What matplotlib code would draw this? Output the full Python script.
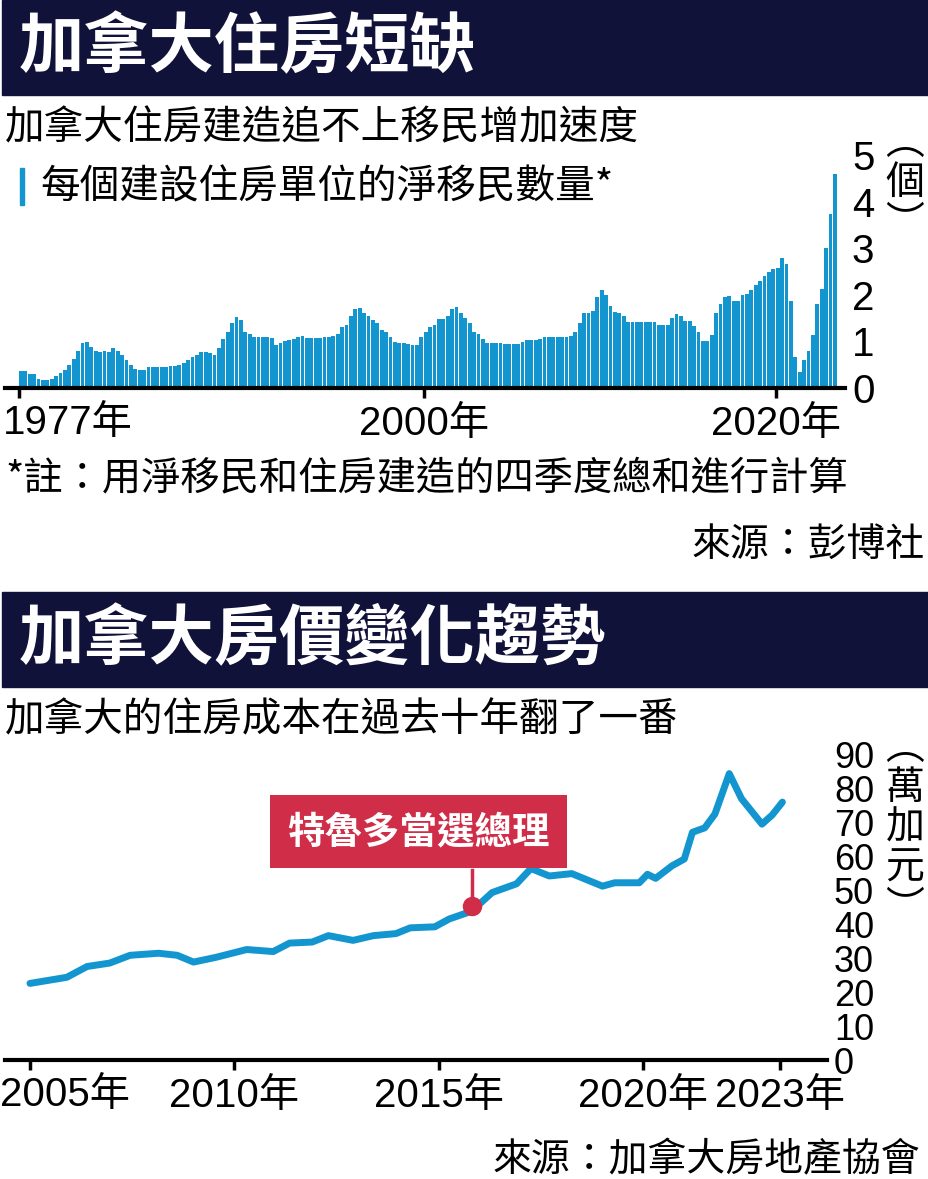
import matplotlib
matplotlib.use("Agg")
import matplotlib.pyplot as plt
import numpy as np
from matplotlib.patches import Rectangle

# ---- data ----
# net immigrants per housing unit built, quarterly, 1977Q1 .. 2023Q2
start_year = 1977
mig_per_unit = [
    0.37, 0.37, 0.31, 0.30,  # 1977
    0.19, 0.17, 0.17, 0.19,  # 1978
    0.25, 0.33, 0.39, 0.50,  # 1979
    0.63, 0.80, 0.96, 0.98,  # 1980
    0.89, 0.80, 0.78, 0.80,  # 1981
    0.78, 0.85, 0.80, 0.70,  # 1982
    0.60, 0.50, 0.40, 0.39,  # 1983
    0.39, 0.44, 0.44, 0.44,  # 1984
    0.44, 0.45, 0.47, 0.48,  # 1985
    0.50, 0.53, 0.60, 0.67,  # 1986
    0.70, 0.78, 0.78, 0.75,  # 1987
    0.71, 0.85, 1.05, 1.20,  # 1988
    1.40, 1.52, 1.45, 1.20,  # 1989
    1.15, 1.10, 1.10, 1.10,  # 1990
    1.10, 1.08, 0.92, 0.96,  # 1991
    1.00, 1.03, 1.05, 1.10,  # 1992
    1.12, 1.07, 1.07, 1.07,  # 1993
    1.07, 1.10, 1.10, 1.12,  # 1994
    1.15, 1.30, 1.35, 1.55,  # 1995
    1.70, 1.71, 1.60, 1.55,  # 1996
    1.45, 1.40, 1.25, 1.20,  # 1997
    1.10, 0.98, 0.96, 0.96,  # 1998
    0.95, 0.92, 0.93, 1.10,  # 1999
    1.20, 1.30, 1.35, 1.47,  # 2000
    1.47, 1.55, 1.70, 1.73,  # 2001
    1.62, 1.50, 1.40, 1.20,  # 2002
    1.15, 1.05, 0.96, 0.96,  # 2003
    0.96, 0.96, 0.94, 0.94,  # 2004
    0.94, 0.94, 0.98, 1.02,  # 2005
    1.02, 1.02, 1.05, 1.10,  # 2006
    1.10, 1.10, 1.10, 1.10,  # 2007
    1.10, 1.12, 1.20, 1.40,  # 2008
    1.60, 1.61, 1.65, 1.95,  # 2009
    2.10, 2.00, 1.75, 1.64,  # 2010
    1.62, 1.54, 1.41, 1.41,  # 2011
    1.41, 1.41, 1.41, 1.41,  # 2012
    1.41, 1.36, 1.36, 1.36,  # 2013
    1.50, 1.59, 1.55, 1.43,  # 2014
    1.43, 1.33, 1.20, 1.00,  # 2015
    1.00, 1.14, 1.60, 1.80,  # 2016
    1.95, 1.97, 1.86, 1.86,  # 2017
    2.00, 2.02, 2.10, 2.20,  # 2018
    2.30, 2.40, 2.50, 2.55,  # 2019
    2.58, 2.80, 2.66, 1.86,  # 2020
    0.67, 0.35, 0.60, 0.80,  # 2021
    1.14, 1.80, 2.12, 3.00,  # 2022
    3.74, 4.60,              # 2023
]
top_ticks = [1977, 2000, 2020]
top_labels = ["1977年", "2000年", "2020年"]

# average home price (10k CAD)
price_year = [2005.0, 2005.9, 2006.4, 2006.95, 2007.45, 2008.15, 2008.6, 2009.0,
              2009.55, 2010.3, 2010.95, 2011.35, 2011.9, 2012.3, 2012.9, 2013.4,
              2013.95, 2014.3, 2014.9, 2015.25, 2015.8, 2016.3, 2016.9, 2017.25,
              2017.7, 2018.25, 2019.0, 2019.3, 2019.9, 2020.1, 2020.3, 2020.7,
              2021.0, 2021.2, 2021.5, 2021.75, 2022.1, 2022.4, 2022.9, 2023.15, 2023.4]
price = [22.6, 24.4, 27.6, 28.6, 30.9, 31.5, 30.9, 28.9,
         30.3, 32.6, 32.0, 34.5, 34.8, 36.7, 35.3, 36.7,
         37.3, 39.0, 39.3, 41.6, 43.9, 49.4, 52.0, 56.5,
         54.3, 55.0, 51.3, 52.3, 52.3, 54.8, 53.6, 57.3,
         59.3, 67.2, 68.5, 72.6, 84.5, 77.1, 69.6, 72.3, 76.1]
bottom_ticks = [2005, 2010, 2015, 2020, 2023.35]
bottom_labels = ["2005年", "2010年", "2015年", "2020年", "2023年"]
event_label = "特魯多當選總理"
event_year, event_price = 2015.8, 45.5

# ---- style ----
W, H = 929, 1179
NAVY = "#10123a"
BLUE = "#1396d0"
RED = "#cf2d48"
CJK = ["Noto Sans CJK TC", "DejaVu Sans"]
NUM = ["Liberation Sans", "Noto Sans CJK TC", "DejaVu Sans"]
plt.rcParams["font.family"] = NUM


def fx(x):
    return x / W


def fy(y):
    return 1 - y / H


fig = plt.figure(figsize=(W / 100, H / 100), dpi=100)

# title bars
for y0, y1, title in [(0, 95, "加拿大住房短缺"), (592, 687, "加拿大房價變化趨勢")]:
    fig.patches.append(Rectangle((fx(2), fy(y1)), 1 - fx(2), fy(y0) - fy(y1),
                                 transform=fig.transFigure, color=NAVY))
    fig.text(fx(19), fy((y0 + y1) / 2), title, color="white", fontsize=47,
             fontweight="bold", family=CJK, va="center", ha="left")


def style_axis(ax, labelsize):
    for s in ["top", "left", "right"]:
        ax.spines[s].set_visible(False)
    ax.spines["bottom"].set_linewidth(3)
    ax.yaxis.tick_right()
    ax.tick_params(axis="y", length=0, pad=5, labelsize=labelsize)
    ax.tick_params(axis="x", length=7, width=2.5, pad=5, labelsize=29)


# ---- top chart: bars ----
ax1 = fig.add_axes([fx(5), fy(388), fx(845) - fx(5), fy(155) - fy(388)])
quarters = start_year + np.arange(len(mig_per_unit)) * 0.25
ax1.bar(quarters, mig_per_unit, width=0.21, align="edge", color=BLUE, linewidth=0)
ax1.set_xlim(1976.2, 2023.93)
ax1.set_ylim(0, 5)
style_axis(ax1, 29)
ax1.set_yticks(range(6))
ax1.set_xticks(top_ticks)
ax1.set_xticklabels([""] + top_labels[1:])
ax1.annotate(top_labels[0], xy=(top_ticks[0], 0), xycoords=("data", "axes fraction"),
             xytext=(-16, -16), textcoords="offset pixels", ha="left", va="top", fontsize=29)

fig.text(fx(5), fy(128), "加拿大住房建造追不上移民增加速度", fontsize=28.5, family=CJK, va="center")
fig.patches.append(Rectangle((fx(20), fy(205)), fx(4), fy(168) - fy(205),
                             transform=fig.transFigure, color=BLUE))
fig.text(fx(40), fy(187), "每個建設住房單位的淨移民數量*", fontsize=28.5, family=CJK, va="center")
fig.text(fx(905), fy(183), "︵\n個\n︶", fontsize=28, family=CJK, ha="center", va="center",
         linespacing=1.0)
fig.text(fx(5), fy(478), "*註：用淨移民和住房建造的四季度總和進行計算", fontsize=28.3, family=CJK,
         va="center")
fig.text(fx(925), fy(545), "來源：彭博社", fontsize=28, family=CJK, ha="right", va="center")

# ---- bottom chart: line ----
ax2 = fig.add_axes([fx(5), fy(1060), fx(827) - fx(5), fy(755) - fy(1060)])
ax2.plot(price_year, price, color=BLUE, lw=5, solid_capstyle="round",
         solid_joinstyle="round")
ax2.set_xlim(2004.39, 2024.49)
ax2.set_ylim(0, 90)
style_axis(ax2, 26)
ax2.set_yticks(range(0, 91, 10))
ax2.set_xticks(bottom_ticks)
ax2.set_xticklabels([""] + bottom_labels[1:])
ax2.annotate(bottom_labels[0], xy=(bottom_ticks[0], 0), xycoords=("data", "axes fraction"),
             xytext=(-30, -16), textcoords="offset pixels", ha="left", va="top", fontsize=29)

ax2.plot([event_year, event_year], [event_price, 56], color=RED, lw=2.5, zorder=4)
ax2.plot(event_year, event_price, "o", color=RED, ms=13, zorder=5)
ax2.text(2014.5, 67.4, event_label, color="white", fontsize=27, fontweight="bold",
         family=CJK, ha="center", va="center",
         bbox=dict(boxstyle="square,pad=0.45", fc=RED, ec="none"))

fig.text(fx(5), fy(720), "加拿大的住房成本在過去十年翻了一番", fontsize=28.5, family=CJK, va="center")
fig.text(fx(905), fy(828), "︵\n萬\n加\n元\n︶", fontsize=28, family=CJK, ha="center",
         va="center", linespacing=1.0)
fig.text(fx(920), fy(1160), "來源：加拿大房地產協會", fontsize=28, family=CJK, ha="right",
         va="center")

fig.savefig("out.png", dpi=100, facecolor="white")
